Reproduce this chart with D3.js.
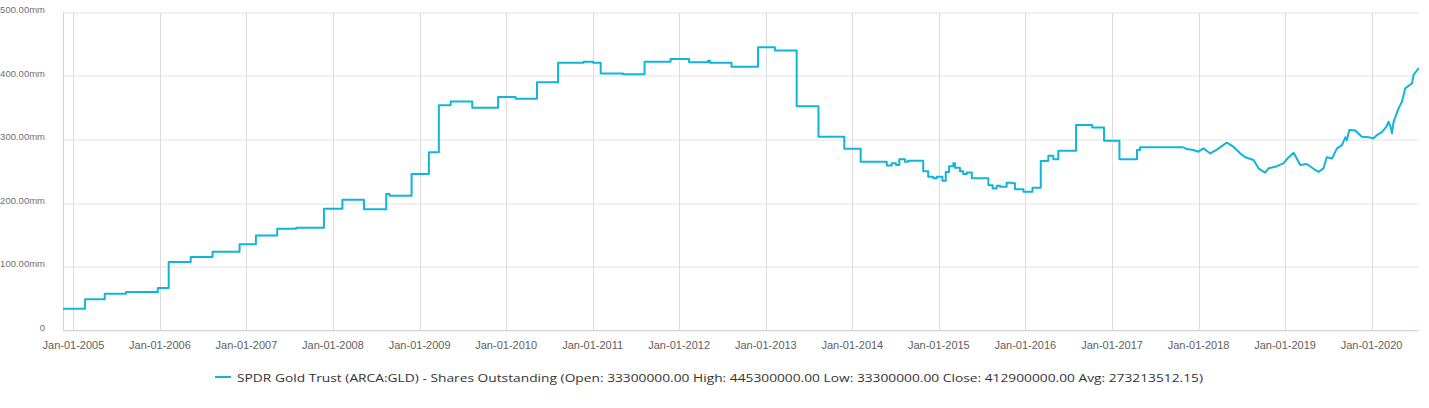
<!DOCTYPE html>
<html>
<head>
<meta charset="utf-8">
<script src="https://cdn.jsdelivr.net/npm/d3@7"></script>
<style>
  body { margin: 0; background: #fff; }
  svg { display: block; }
</style>
</head>
<body>
<div id="canvas"></div>
<script>
// change dates of the shares outstanding series
const dates = [
  "2004-11-18", "2005-02-19", "2005-05-13", "2005-08-11", "2005-12-23",
  "2006-02-07", "2006-05-11", "2006-08-11", "2006-12-03", "2007-02-10",
  "2007-05-11", "2007-07-30", "2007-11-24", "2008-02-10", "2008-05-11",
  "2008-08-13", "2008-08-27", "2008-11-28", "2009-02-09", "2009-03-23",
  "2009-05-12", "2009-08-11", "2009-11-28", "2010-02-10", "2010-05-11",
  "2010-08-08", "2010-11-24", "2011-01-03", "2011-02-04", "2011-05-09",
  "2011-08-08", "2011-11-26", "2012-02-12", "2012-05-02", "2012-05-10",
  "2012-08-09", "2012-11-29", "2013-02-08", "2013-05-11", "2013-08-11",
  "2013-11-28", "2014-02-05", "2014-05-05", "2014-05-26", "2014-06-16",
  "2014-07-04", "2014-07-18", "2014-08-11", "2014-08-24", "2014-10-23",
  "2014-10-27", "2014-11-17", "2014-12-08", "2014-12-23", "2015-01-16",
  "2015-01-30", "2015-02-13", "2015-03-03", "2015-03-10", "2015-03-31",
  "2015-04-14", "2015-04-29", "2015-05-20", "2015-07-15", "2015-07-29",
  "2015-08-16", "2015-09-02", "2015-09-16", "2015-10-14", "2015-11-05",
  "2015-11-18", "2015-12-24", "2016-01-31", "2016-03-06", "2016-04-07",
  "2016-04-28", "2016-05-19", "2016-08-02", "2016-10-09", "2016-11-28",
  "2017-02-01", "2017-04-16", "2017-04-29", "2017-10-29", "2017-11-12",
  "2017-12-10", "2017-12-31", "2018-01-22", "2018-02-19", "2018-03-19",
  "2018-04-30", "2018-05-28", "2018-06-26", "2018-07-17", "2018-08-21",
  "2018-09-11", "2018-10-09", "2018-10-23", "2018-11-28", "2018-12-25",
  "2019-01-11", "2019-02-06", "2019-03-06", "2019-04-03", "2019-05-08",
  "2019-05-22", "2019-06-12", "2019-06-26", "2019-07-18", "2019-08-08",
  "2019-08-29", "2019-09-12", "2019-09-19", "2019-09-29", "2019-10-24",
  "2019-11-21", "2019-12-19", "2020-01-09", "2020-01-24", "2020-02-14",
  "2020-03-03", "2020-03-13", "2020-03-23", "2020-03-27", "2020-04-03",
  "2020-04-24", "2020-05-08", "2020-05-22", "2020-06-20", "2020-06-26",
  "2020-07-15", "2020-07-17"
];

// shares outstanding, millions
const shares = [
  33.3, 48.3, 57.2, 59.8, 66,
  107, 115, 123.3, 135, 149,
  159.5, 161, 191, 205, 190,
  214, 211.5, 245.7, 280, 354,
  360, 350, 367, 364, 390,
  421, 422.6, 421, 404, 402.6,
  422.6, 426.8, 421.5, 424, 421,
  414.6, 445.3, 440, 352.5, 304.4,
  285.5, 265, 265, 259, 262.5,
  260, 269, 265, 266.6, 266.6,
  250, 241.5, 239, 241.5, 235,
  249, 258, 262.5, 255.6, 250,
  245.7, 248, 239, 239, 228,
  223, 227, 225.7, 232, 231,
  221.6, 217.8, 224, 266, 274.5,
  268.8, 282.4, 322.8, 319, 298,
  269, 283.5, 287.7, 287.7, 285,
  283.5, 280.8, 286, 278, 284,
  295, 288.7, 278, 272, 267.7,
  254.6, 247.7, 254.6, 258, 262.5,
  270, 279, 260, 261.4, 252,
  249, 254.6, 272, 270, 286,
  291, 303.5, 299, 315, 314,
  304.4, 303.5, 302, 307, 312,
  320, 328, 317.6, 309.8, 328,
  349, 359.5, 380.6, 388.5, 401.6,
  411, 412.9
];

// from this date on the series moves in small daily steps
const smoothFrom = "2017-10-29";

const yTicks = [0, 100, 200, 300, 400, 500];
const xTickYears = d3.range(2005, 2021);
const legendText = "SPDR Gold Trust (ARCA:GLD) - Shares Outstanding (Open: 33300000.00 High: 445300000.00 Low: 33300000.00 Close: 412900000.00 Avg: 273213512.15)";

const lineColor = "#10b5d9";
const W = 1429, H = 408;
const margin = { top: 12.5, right: 10.5, bottom: 78, left: 63 };
const width = W - margin.left - margin.right;
const height = H - margin.top - margin.bottom;

const parse = d3.timeParse("%Y-%m-%d");
const data = dates.map((d, i) => [parse(d), shares[i]]);
const split = dates.indexOf(smoothFrom);

const svg = d3
  .select("#canvas")
  .append("svg")
  .attr("width", W)
  .attr("height", H);

const g = svg
  .append("g")
  .attr("transform", "translate(" + margin.left + "," + margin.top + ")");

const x = d3
  .scaleTime()
  .domain([data[0][0], data[data.length - 1][0]])
  .range([0, width]);

const y = d3.scaleLinear().domain([0, 500]).range([height, 0]);

// horizontal grid
g.append("g")
  .selectAll("line")
  .data(yTicks)
  .join("line")
  .attr("x1", 0)
  .attr("x2", width)
  .attr("y1", (d) => Math.round(y(d)) + 0.5)
  .attr("y2", (d) => Math.round(y(d)) + 0.5)
  .attr("stroke", "#e3e3e3")
  .attr("stroke-width", 1);

// vertical grid at each Jan 1
const xTicks = xTickYears.map((yr) => new Date(yr, 0, 1));
g.append("g")
  .selectAll("line")
  .data(xTicks)
  .join("line")
  .attr("x1", (d) => Math.round(x(d)) + 0.5)
  .attr("x2", (d) => Math.round(x(d)) + 0.5)
  .attr("y1", 0)
  .attr("y2", height)
  .attr("stroke", "#dcdcdc")
  .attr("stroke-width", 1);

// axis lines
g.append("line")
  .attr("x1", 0.5).attr("x2", 0.5)
  .attr("y1", 0).attr("y2", height + 1)
  .attr("stroke", "#ccd6eb");
g.append("line")
  .attr("x1", 0).attr("x2", width)
  .attr("y1", height + 0.5).attr("y2", height + 0.5)
  .attr("stroke", "#ccd6eb");

// y labels
g.append("g")
  .selectAll("text")
  .data(yTicks)
  .join("text")
  .attr("x", -18)
  .attr("y", (d) => y(d) + 0.5)
  .attr("text-anchor", "end")
  .attr("font-family", "Liberation Sans, Arial, sans-serif")
  .attr("font-size", "9.5px")
  .attr("fill", "#707070")
  .text((d) => (d === 0 ? "0" : d3.format(".2f")(d) + "mm"));

// x labels
const fmt = d3.timeFormat("%b-%d-%Y");
g.append("g")
  .selectAll("text")
  .data(xTicks)
  .join("text")
  .attr("x", (d) => x(d))
  .attr("y", height + 19)
  .attr("text-anchor", "middle")
  .attr("font-family", "Liberation Sans, Arial, sans-serif")
  .attr("font-size", "11px")
  .attr("fill", "#606060")
  .text((d) => fmt(d));

// series: stepped early part, daily-ish later part
const stepLine = d3
  .line()
  .x((d) => x(d[0]))
  .y((d) => y(d[1]))
  .curve(d3.curveStepAfter);

const dailyLine = d3
  .line()
  .x((d) => x(d[0]))
  .y((d) => y(d[1]));

g.append("path")
  .datum(data.slice(0, split + 1))
  .attr("fill", "none")
  .attr("stroke", lineColor)
  .attr("stroke-width", 2)
  .attr("stroke-linejoin", "round")
  .attr("d", stepLine);

g.append("path")
  .datum(data.slice(split))
  .attr("fill", "none")
  .attr("stroke", lineColor)
  .attr("stroke-width", 2)
  .attr("stroke-linejoin", "round")
  .attr("d", dailyLine);

// legend
const legend = svg.append("g").attr("transform", "translate(215,377)");
legend
  .append("line")
  .attr("x1", 0)
  .attr("x2", 16)
  .attr("y1", 0)
  .attr("y2", 0)
  .attr("stroke", lineColor)
  .attr("stroke-width", 2);
legend
  .append("text")
  .attr("x", 22)
  .attr("y", 4.5)
  .attr("font-family", "Open Sans, sans-serif")
  .attr("font-size", "11.5px")
  .attr("fill", "#333")
  .attr("textLength", 966)
  .attr("lengthAdjust", "spacingAndGlyphs")
  .text(legendText);
</script>
</body>
</html>
